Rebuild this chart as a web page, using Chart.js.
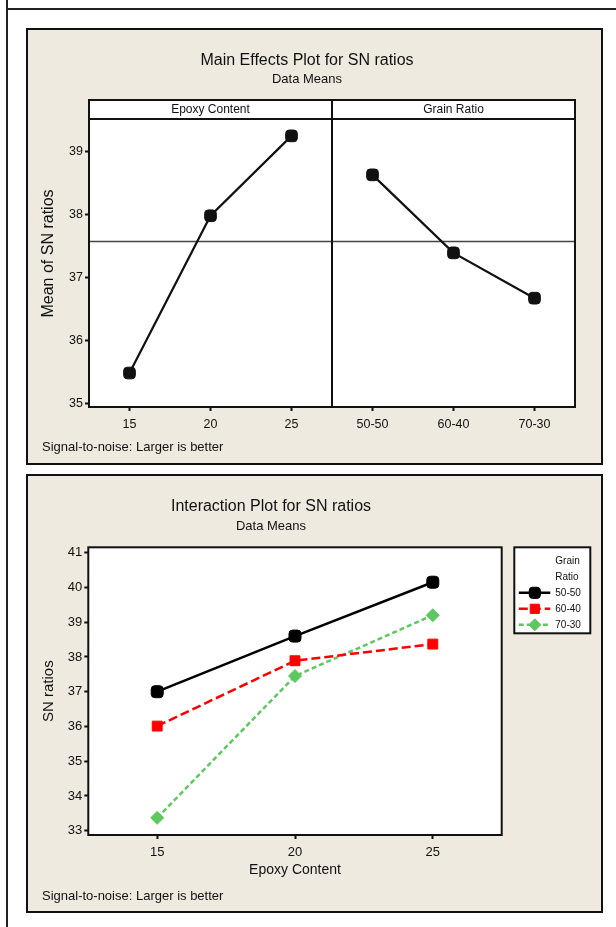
<!DOCTYPE html>
<html>
<head>
<meta charset="utf-8">
<title>SN ratios</title>
<script src="https://cdn.jsdelivr.net/npm/chart.js@4.4.1/dist/chart.umd.min.js"></script>
<style>
  html, body { margin: 0; padding: 0; background: #fff; width: 616px; height: 927px; overflow: hidden; }
  .rule-v { position: absolute; left: 6px; top: 0; width: 2px; height: 927px; background: #222; }
  .rule-h { position: absolute; left: 6px; top: 8px; width: 610px; height: 2px; background: #222; }
  .panel { position: absolute; left: 26px; width: 573px; background: #EEEAE0; border: 2px solid #111; }
  #mainPanel { top: 28px; height: 433px; }
  #interPanel { top: 474px; height: 435px; }
  canvas { display: block; }
</style>
</head>
<body>
<div class="rule-v"></div>
<div class="rule-h"></div>
<div class="panel" id="mainPanel"><canvas id="mainChart" width="573" height="433"></canvas></div>
<div class="panel" id="interPanel"><canvas id="interChart" width="573" height="435"></canvas></div>

<script>
// factor levels
const factorNames = ['Epoxy Content', 'Grain Ratio'];
const epoxyLevels = ['15', '20', '25'];
const grainLevels = ['50-50', '60-40', '70-30'];

// main effects (mean of SN ratios per level)
const epoxyMeans = [35.48, 37.98, 39.25];
const grainMeans = [38.63, 37.39, 36.67];
const mainYTicks = [35, 36, 37, 38, 39];

// interaction: SN ratio per epoxy level, one series per grain ratio
const sn5050 = [37.00, 38.60, 40.15];
const sn6040 = [36.01, 37.89, 38.37];
const sn7030 = [33.37, 37.45, 39.20];
const interYTicks = [33, 34, 35, 36, 37, 38, 39, 40, 41];

const footnote = 'Signal-to-noise: Larger is better';

const FONT = '"Liberation Sans", Arial, sans-serif';
const INK = '#111';
Chart.defaults.font.family = FONT;
Chart.defaults.color = INK;

const mainLevels = [...epoxyLevels, ...grainLevels];
const grandMean = epoxyMeans.reduce((s, v) => s + v, 0) / epoxyMeans.length;

function whiteArea(chart) {
    const { ctx, chartArea: a } = chart;
    ctx.save();
    ctx.fillStyle = '#fff';
    ctx.fillRect(a.left, a.top, a.right - a.left, a.bottom - a.top);
    ctx.restore();
}

function drawFootnote(chart, y) {
    const ctx = chart.ctx;
    ctx.save();
    ctx.font = '13px ' + FONT;
    ctx.fillStyle = INK;
    ctx.textAlign = 'left';
    ctx.textBaseline = 'middle';
    ctx.fillText(footnote, 14, y);
    ctx.restore();
}

// strips, reference line and frame for the main effects panels
const mainDecor = {
    id: 'mainDecor',
    beforeDraw: whiteArea,
    beforeDatasetsDraw(chart) {
        const { ctx, chartArea: a, scales: { y } } = chart;
        const ym = y.getPixelForValue(grandMean);
        ctx.save();
        ctx.strokeStyle = '#444';
        ctx.lineWidth = 1.5;
        ctx.beginPath();
        ctx.moveTo(a.left, ym);
        ctx.lineTo(a.right, ym);
        ctx.stroke();
        ctx.restore();
    },
    afterDatasetsDraw(chart) {
        const { ctx, chartArea: a, scales: { x } } = chart;
        const split = x.getPixelForValue(epoxyLevels.length);
        const stripH = 19;
        ctx.save();
        ctx.fillStyle = '#fff';
        ctx.fillRect(a.left, a.top, a.right - a.left, stripH);
        ctx.strokeStyle = INK;
        ctx.lineWidth = 2;
        ctx.strokeRect(a.left, a.top, a.right - a.left, a.bottom - a.top);
        ctx.beginPath();
        ctx.moveTo(a.left, a.top + stripH);
        ctx.lineTo(a.right, a.top + stripH);
        ctx.moveTo(split, a.top);
        ctx.lineTo(split, a.bottom);
        ctx.stroke();

        ctx.font = '12px ' + FONT;
        ctx.fillStyle = INK;
        ctx.textAlign = 'center';
        ctx.textBaseline = 'middle';
        ctx.fillText(factorNames[0], (a.left + split) / 2, a.top + stripH / 2);
        ctx.fillText(factorNames[1], (split + a.right) / 2, a.top + stripH / 2);
        ctx.restore();

        drawFootnote(chart, chart.height - 16);
    }
};

new Chart(document.getElementById('mainChart'), {
    type: 'line',
    data: {
        datasets: [{
            label: factorNames[0],
            data: epoxyMeans.map((v, i) => ({ x: i + 0.5, y: v })),
            borderColor: INK,
            backgroundColor: INK,
            borderWidth: 2.2,
            pointStyle: 'rectRounded',
            pointRadius: 6.8,
            pointBorderWidth: 1
        }, {
            label: factorNames[1],
            data: grainMeans.map((v, i) => ({ x: epoxyLevels.length + i + 0.5, y: v })),
            borderColor: INK,
            backgroundColor: INK,
            borderWidth: 2.2,
            pointStyle: 'rectRounded',
            pointRadius: 6.8,
            pointBorderWidth: 1
        }]
    },
    options: {
        responsive: false,
        animation: false,
        events: [],
        layout: { padding: { left: 11, right: 26, top: 0, bottom: 32 } },
        plugins: {
            legend: { display: false },
            tooltip: { enabled: false },
            title: {
                display: true,
                text: 'Main Effects Plot for SN ratios',
                color: INK,
                font: { size: 16, weight: 'normal' },
                padding: { top: 21.4, bottom: 0 }
            },
            subtitle: {
                display: true,
                text: 'Data Means',
                color: INK,
                font: { size: 13 },
                padding: { top: 0.6, bottom: 13.2 }
            }
        },
        scales: {
            x: {
                type: 'linear',
                min: 0,
                max: mainLevels.length,
                afterBuildTicks: s => { s.ticks = mainLevels.map((_, i) => ({ value: i + 0.5 })); },
                afterFit: s => { s.height = 24; },
                ticks: {
                    autoSkip: false,
                    maxRotation: 0,
                    padding: 6,
                    color: INK,
                    font: { size: 12.5 },
                    callback: (v, i) => mainLevels[i]
                },
                grid: { drawOnChartArea: false, drawTicks: true, tickLength: 4, tickColor: INK, tickWidth: 2 },
                border: { display: false }
            },
            y: {
                min: 34.94,
                max: 39.82,
                afterBuildTicks: s => { s.ticks = mainYTicks.map(v => ({ value: v })); },
                afterFit: s => { s.width = 50; },
                ticks: { padding: 2, color: INK, font: { size: 12.5 } },
                grid: { drawOnChartArea: false, drawTicks: true, tickLength: 4, tickColor: INK, tickWidth: 2 },
                border: { display: false },
                title: {
                    display: true,
                    text: 'Mean of SN ratios',
                    color: INK,
                    font: { size: 16 },
                    padding: 0
                }
            }
        }
    },
    plugins: [mainDecor]
});

const interSeries = [
    { label: '50-50', data: sn5050, color: '#000000', dash: [], style: 'rectRounded', radius: 7 },
    { label: '60-40', data: sn6040, color: '#FF0000', dash: [9, 4], style: 'rect', radius: 7 },
    { label: '70-30', data: sn7030, color: '#5EC85E', dash: [5, 3], style: 'rectRot', radius: 6.5 }
];

// frame, legend box and footnote for the interaction plot
const interDecor = {
    id: 'interDecor',
    beforeDraw: whiteArea,
    afterDatasetsDraw(chart) {
        const { ctx, chartArea: a } = chart;
        ctx.save();
        ctx.strokeStyle = INK;
        ctx.lineWidth = 2;
        ctx.strokeRect(a.left, a.top, a.right - a.left, a.bottom - a.top);

        const bx = a.right + 12.6, by = a.top, bw = 76, bh = 86;
        ctx.fillStyle = '#fff';
        ctx.fillRect(bx, by, bw, bh);
        ctx.strokeRect(bx, by, bw, bh);

        ctx.font = '10px ' + FONT;
        ctx.fillStyle = INK;
        ctx.textAlign = 'left';
        ctx.textBaseline = 'middle';
        ctx.fillText('Grain', bx + 41, by + 13.5);
        ctx.fillText('Ratio', bx + 41, by + 29.5);

        interSeries.forEach((s, i) => {
            const ly = by + 45.5 + i * 16;
            ctx.save();
            ctx.strokeStyle = s.color;
            ctx.lineWidth = 2.5;
            ctx.setLineDash(s.dash);
            ctx.beginPath();
            ctx.moveTo(bx + 4.5, ly);
            ctx.lineTo(bx + 36, ly);
            ctx.stroke();
            ctx.setLineDash([]);
            ctx.fillStyle = s.color;
            ctx.strokeStyle = s.color;
            ctx.lineWidth = 1;
            Chart.helpers.drawPoint(ctx, { pointStyle: s.style, radius: s.radius - 0.5, rotation: 0, borderWidth: 1 }, bx + 20.5, ly);
            ctx.restore();
            ctx.fillText(s.label, bx + 41, ly);
        });
        ctx.restore();

        drawFootnote(chart, chart.height - 15);
    }
};

new Chart(document.getElementById('interChart'), {
    type: 'line',
    data: {
        labels: epoxyLevels,
        datasets: interSeries.map(s => ({
            label: s.label,
            data: s.data,
            borderColor: s.color,
            backgroundColor: s.color,
            borderWidth: 2.5,
            borderDash: s.dash,
            pointStyle: s.style,
            pointRadius: s.radius,
            pointBorderWidth: 1
        }))
    },
    options: {
        responsive: false,
        animation: false,
        events: [],
        layout: { padding: { left: 12.3, right: 99.3, top: 0, bottom: 32.6 } },
        plugins: {
            legend: { display: false },
            tooltip: { enabled: false },
            title: {
                display: true,
                text: 'Interaction Plot for SN ratios',
                color: INK,
                font: { size: 16, weight: 'normal' },
                padding: { top: 21.1, bottom: 0 }
            },
            subtitle: {
                display: true,
                text: 'Data Means',
                color: INK,
                font: { size: 13 },
                padding: { top: 1.9, bottom: 13.5 }
            }
        },
        scales: {
            x: {
                offset: true,
                afterFit: s => { s.height = 43.4; },
                ticks: { padding: 5.5, color: INK, font: { size: 13 }, maxRotation: 0 },
                grid: { offset: false, drawOnChartArea: false, drawTicks: true, tickLength: 4, tickColor: INK, tickWidth: 2 },
                border: { display: false },
                title: {
                    display: true,
                    text: 'Epoxy Content',
                    color: INK,
                    font: { size: 14 },
                    padding: 0
                }
            },
            y: {
                min: 32.876,
                max: 41.155,
                afterBuildTicks: s => { s.ticks = interYTicks.map(v => ({ value: v })); },
                afterFit: s => { s.width = 48; },
                ticks: { padding: 2, color: INK, font: { size: 13 } },
                grid: { drawOnChartArea: false, drawTicks: true, tickLength: 4, tickColor: INK, tickWidth: 2 },
                border: { display: false },
                title: {
                    display: true,
                    text: 'SN ratios',
                    color: INK,
                    font: { size: 15 },
                    padding: 0
                }
            }
        }
    },
    plugins: [interDecor]
});
</script>
</body>
</html>
